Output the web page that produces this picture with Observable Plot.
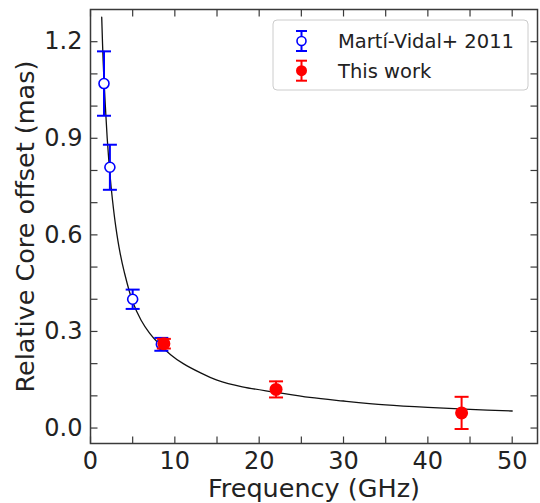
<!DOCTYPE html>
<html>
<head>
<meta charset="utf-8">
<script src="https://cdn.jsdelivr.net/npm/d3@7"></script>
<script src="https://cdn.jsdelivr.net/npm/@observablehq/plot@0.6"></script>
<style>
  html, body { margin: 0; padding: 0; background: #fff; }
  #chart svg { display: block; }
</style>
</head>
<body>
<div id="chart"></div>
<script>
// Martí-Vidal+ 2011 (open blue circles)
const mvFreq = [1.6, 2.3, 5.0, 8.4];
const mvOffset = [1.07, 0.81, 0.40, 0.26];
const mvErr = [0.10, 0.07, 0.03, 0.02];

// This work (filled red circles)
const twFreq = [8.7, 22, 44];
const twOffset = [0.262, 0.12, 0.047];
const twErr = [0.015, 0.025, 0.05];

// Fitted curve
const fitFreq = [1.33, 1.5, 1.75, 2.0, 2.3, 2.6, 3.0, 3.5, 4.0, 5.0, 6.0, 7.0, 8.0, 9.5, 11, 13, 15, 18, 22, 26, 30, 35, 40, 45, 50];
const fitOffset = [1.276, 1.14, 1.005, 0.893, 0.79, 0.71, 0.625, 0.545, 0.485, 0.392, 0.335, 0.295, 0.265, 0.228, 0.20, 0.172, 0.149, 0.128, 0.111, 0.095, 0.084, 0.072, 0.064, 0.058, 0.053];

// Ticks
const xTickLabels = [0, 10, 20, 30, 40, 50];
const xTickMarks = [0, 5, 10, 15, 20, 25, 30, 35, 40, 45, 50];
const yTickLabels = [0.0, 0.3, 0.6, 0.9, 1.2];
const yTickMarks = [0.0, 0.1, 0.2, 0.3, 0.4, 0.5, 0.6, 0.7, 0.8, 0.9, 1.0, 1.1, 1.2];

const legendLabels = ["Martí-Vidal+ 2011", "This work"];
const seriesColors = ["#0000ff", "#ff0000"];

const mv = mvFreq.map((f, i) => ({f, y: mvOffset[i], e: mvErr[i]}));
const tw = twFreq.map((f, i) => ({f, y: twOffset[i], e: twErr[i]}));
const fit = fitFreq.map((f, i) => ({f, y: fitOffset[i]}));

const L = 7;
const tickRight = {draw(c) { c.moveTo(0, 0); c.lineTo(L, 0); }};
const tickLeft = {draw(c) { c.moveTo(0, 0); c.lineTo(-L, 0); }};
const tickUp = {draw(c) { c.moveTo(0, 0); c.lineTo(0, -L); }};
const tickDown = {draw(c) { c.moveTo(0, 0); c.lineTo(0, L); }};
const cap = {draw(c) { c.moveTo(-7, 0); c.lineTo(7, 0); }};

const axisColor = "#3a3a3a";
const textColor = "#222";
const FONT = "DejaVu Sans";

const chart = Plot.plot({
  width: 540,
  height: 503,
  marginLeft: 90,
  marginRight: 3,
  marginTop: 9,
  marginBottom: 60,
  style: {fontFamily: FONT, background: "#fff", overflow: "visible"},
  x: {domain: [0, 53], axis: null},
  y: {domain: [-0.048, 1.30], axis: null},
  marks: [
    // fitted curve
    Plot.line(fit, {x: "f", y: "y", stroke: "#111", strokeWidth: 1.3, curve: "catmull-rom"}),
    // Martí-Vidal error bars
    Plot.ruleX(mv, {x: "f", y1: d => d.y - d.e, y2: d => d.y + d.e, stroke: seriesColors[0], strokeWidth: 2}),
    Plot.dot(mv, {x: "f", y: d => d.y - d.e, symbol: cap, fill: "none", stroke: seriesColors[0], strokeWidth: 2}),
    Plot.dot(mv, {x: "f", y: d => d.y + d.e, symbol: cap, fill: "none", stroke: seriesColors[0], strokeWidth: 2}),
    Plot.dot(mv, {x: "f", y: "y", r: 5, fill: "white", stroke: seriesColors[0], strokeWidth: 1.6}),
    // This work
    Plot.ruleX(tw, {x: "f", y1: d => d.y - d.e, y2: d => d.y + d.e, stroke: seriesColors[1], strokeWidth: 2}),
    Plot.dot(tw, {x: "f", y: d => d.y - d.e, symbol: cap, fill: "none", stroke: seriesColors[1], strokeWidth: 2}),
    Plot.dot(tw, {x: "f", y: d => d.y + d.e, symbol: cap, fill: "none", stroke: seriesColors[1], strokeWidth: 2}),
    Plot.dot(tw, {x: "f", y: "y", r: 6.5, fill: seriesColors[1], stroke: "none"}),
    // inward ticks on all four sides
    Plot.dot(yTickMarks, {y: d => d, frameAnchor: "left", symbol: tickRight, fill: "none", stroke: axisColor, strokeWidth: 1.2}),
    Plot.dot(yTickMarks, {y: d => d, frameAnchor: "right", symbol: tickLeft, fill: "none", stroke: axisColor, strokeWidth: 1.2}),
    Plot.dot(xTickMarks, {x: d => d, frameAnchor: "bottom", symbol: tickUp, fill: "none", stroke: axisColor, strokeWidth: 1.2}),
    Plot.dot(xTickMarks, {x: d => d, frameAnchor: "top", symbol: tickDown, fill: "none", stroke: axisColor, strokeWidth: 1.2}),
    // tick labels
    Plot.axisY({ticks: yTickLabels, tickSize: 0, tickPadding: 8, fontSize: 24, tickFormat: d3.format(".1f"), label: null, fill: textColor}),
    Plot.axisX({ticks: xTickLabels, tickSize: 0, tickPadding: 8, fontSize: 24, tickFormat: d => String(d), label: null, fill: textColor}),
    // axis titles
    Plot.text(["Frequency (GHz)"], {frameAnchor: "bottom", textAnchor: "middle", lineAnchor: "middle", dy: 45, text: d => d, fontSize: 25.5, fill: textColor}),
    Plot.text(["Relative Core offset (mas)"], {frameAnchor: "left", textAnchor: "middle", lineAnchor: "middle", rotate: -90, dx: -65, text: d => d, fontSize: 25.5, fill: textColor}),
    Plot.frame({stroke: axisColor, strokeWidth: 1.5})
  ]
});

document.getElementById("chart").appendChild(chart);

// Legend (upper right inside the axes)
const svg = d3.select(chart);
const lg = svg.append("g").attr("font-family", FONT).attr("font-size", 19.5)
  .attr("fill", textColor).attr("text-anchor", "start");
lg.append("rect")
  .attr("x", 273).attr("y", 20).attr("width", 255).attr("height", 70)
  .attr("rx", 4).attr("fill", "white").attr("fill-opacity", 0.8)
  .attr("stroke", "#cccccc").attr("stroke-width", 1);
const rows = [
  {label: legendLabels[0], color: seriesColors[0], cy: 41, base: 47.5, open: true, r: 4.5},
  {label: legendLabels[1], color: seriesColors[1], cy: 70.7, base: 77.5, open: false, r: 5.5}
];
rows.forEach(row => {
  const g = lg.append("g");
  const mx = 301.5;
  g.append("line").attr("x1", mx).attr("x2", mx).attr("y1", row.cy - 10).attr("y2", row.cy + 10)
    .attr("stroke", row.color).attr("stroke-width", 2);
  g.append("line").attr("x1", mx - 5.5).attr("x2", mx + 5.5).attr("y1", row.cy - 10).attr("y2", row.cy - 10)
    .attr("stroke", row.color).attr("stroke-width", 2);
  g.append("line").attr("x1", mx - 5.5).attr("x2", mx + 5.5).attr("y1", row.cy + 10).attr("y2", row.cy + 10)
    .attr("stroke", row.color).attr("stroke-width", 2);
  g.append("circle").attr("cx", mx).attr("cy", row.cy).attr("r", row.r)
    .attr("fill", row.open ? "white" : row.color)
    .attr("stroke", row.open ? row.color : "none").attr("stroke-width", 1.6);
  g.append("text").attr("x", 338).attr("y", row.base).text(row.label);
});
</script>
</body>
</html>
